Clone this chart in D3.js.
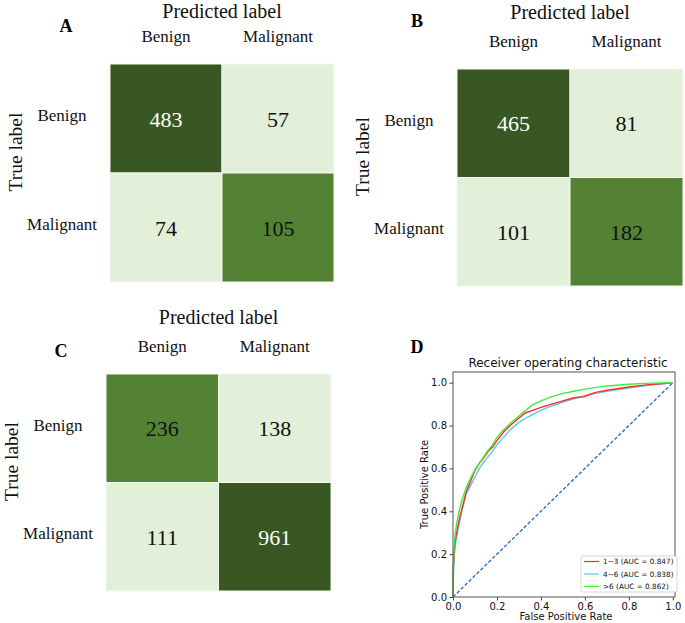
<!DOCTYPE html>
<html><head><meta charset="utf-8">
<script src="https://cdn.jsdelivr.net/npm/d3@7"></script>
<style>body{margin:0;background:#fff}svg{display:block}</style>
</head><body>
<svg id="c" width="685" height="623"></svg>
<script>
// ---------- DATA ----------
const classes = ["Benign", "Malignant"];
const matrixA = [[483, 57], [74, 105]];
const matrixB = [[465, 81], [101, 182]];
const matrixC = [[236, 138], [111, 961]];

const rocTicks = [0, 0.2, 0.4, 0.6, 0.8, 1.0];
const rocNames = ["1~3 (AUC = 0.847)", "4~6 (AUC = 0.838)", ">6 (AUC = 0.862)"];
const fpr13 = [0,0,0.005,0.01,0.02,0.03,0.04,0.05,0.06,0.08,0.1,0.12,0.14,0.16,0.18,0.2,0.23,0.26,0.3,0.33,0.36,0.4,0.45,0.5,0.55,0.6,0.62,0.65,0.7,0.8,0.9,1];
const tpr13 = [0,0.1,0.2,0.26,0.32,0.37,0.41,0.45,0.49,0.54,0.59,0.625,0.65,0.68,0.7,0.73,0.77,0.8,0.835,0.86,0.87,0.885,0.9,0.915,0.93,0.935,0.945,0.955,0.965,0.98,0.992,1];
const fpr46 = [0,0,0.005,0.01,0.02,0.03,0.04,0.05,0.06,0.08,0.1,0.12,0.14,0.16,0.18,0.2,0.23,0.26,0.3,0.34,0.38,0.42,0.46,0.5,0.55,0.6,0.65,0.7,0.8,0.9,1];
const tpr46 = [0,0.06,0.18,0.24,0.3,0.35,0.4,0.44,0.48,0.52,0.56,0.6,0.63,0.655,0.68,0.71,0.745,0.78,0.815,0.84,0.86,0.88,0.895,0.91,0.925,0.94,0.95,0.96,0.975,0.99,1];
const fpr6 = [0,0,0.005,0.01,0.02,0.03,0.04,0.05,0.06,0.08,0.1,0.12,0.14,0.16,0.18,0.2,0.23,0.26,0.3,0.33,0.36,0.4,0.45,0.5,0.55,0.6,0.65,0.7,0.8,0.9,1];
const tpr6 = [0,0.12,0.23,0.3,0.36,0.41,0.45,0.48,0.51,0.555,0.595,0.625,0.655,0.685,0.71,0.745,0.78,0.81,0.845,0.87,0.895,0.915,0.935,0.95,0.96,0.97,0.978,0.985,0.993,0.998,1];
const rocColors = ["#ff2a2a", "#5cc8ea", "#3cf03c"];

// ---------- DRAW ----------
const svg = d3.select("#c");
const serif = "'Liberation Serif','Times New Roman',serif";
const sans = "'DejaVu Sans',sans-serif";
const shade = ["#e2f0d9", "#548235", "#385723"];

function drawMatrix(m, letter, box, letterPos, titleY) {
  const g = svg.append("g");
  const x = d3.scaleBand().domain([0, 1]).range([box.x0, box.x1]);
  const y = d3.scaleBand().domain([0, 1]).range([box.y0, box.y1]);
  // colour by row-normalised value (recall)
  const col = d3.scaleThreshold().domain([0.5, 0.8]).range(shade);
  const cells = [];
  m.forEach((row, i) => {
    const s = d3.sum(row);
    row.forEach((v, j) => cells.push({i, j, v, r: v / s}));
  });
  g.selectAll("rect").data(cells).join("rect")
    .attr("x", d => x(d.j)).attr("y", d => y(d.i))
    .attr("width", x.bandwidth()).attr("height", y.bandwidth())
    .attr("fill", d => col(d.r))
    .attr("stroke", "#f4f8f0").attr("stroke-width", 1);
  g.selectAll("text.num").data(cells).join("text").attr("class", "num")
    .attr("x", d => x(d.j) + x.bandwidth() / 2)
    .attr("y", d => y(d.i) + y.bandwidth() / 2 + 8)
    .attr("text-anchor", "middle")
    .style("font-family", serif).style("font-size", "22px")
    .attr("fill", d => col(d.r) === shade[2] ? "#fff" : "#111")
    .text(d => d.v);
  g.selectAll("text.col").data(classes).join("text").attr("class", "col")
    .attr("x", (d, j) => x(j) + x.bandwidth() / 2)
    .attr("y", box.y0 - 22.5)
    .attr("text-anchor", "middle")
    .style("font-family", serif).style("font-size", "17px").attr("fill", "#111")
    .text(d => d);
  g.selectAll("text.row").data(classes).join("text").attr("class", "row")
    .attr("x", box.x0 - 48)
    .attr("y", (d, i) => y(i) + y.bandwidth() / 2 + 2.5)
    .attr("text-anchor", "middle")
    .style("font-family", serif).style("font-size", "17px").attr("fill", "#111")
    .text(d => d);
  g.append("text")
    .attr("x", (box.x0 + box.x1) / 2).attr("y", titleY)
    .attr("text-anchor", "middle")
    .style("font-family", serif).style("font-size", "20px").attr("fill", "#111")
    .text("Predicted label");
  const cy = (box.y0 + box.y1) / 2 - 21;
  g.append("text")
    .attr("transform", `translate(${box.x0 - 88},${cy}) rotate(-90)`)
    .attr("text-anchor", "middle")
    .style("font-family", serif).style("font-size", "19.5px").attr("fill", "#111")
    .text("True label");
  g.append("text")
    .attr("x", letterPos[0]).attr("y", letterPos[1])
    .attr("text-anchor", "middle")
    .style("font-family", serif).style("font-size", "18px").style("font-weight", "bold")
    .text(letter);
}

drawMatrix(matrixA, "A", {x0: 110, x1: 334, y0: 64, y1: 282}, [66, 32], 18);
drawMatrix(matrixB, "B", {x0: 457, x1: 683, y0: 69, y1: 286}, [417, 27], 19);
drawMatrix(matrixC, "C", {x0: 106, x1: 331, y0: 374, y1: 591}, [61, 357], 324);

// ROC panel
const L = 453, R = 675, T = 372, B = 597;
const xs = d3.scaleLinear().domain([0, 1.01]).range([L, R]);
const ys = d3.scaleLinear().domain([0, 1.05]).range([B, T]);
const rg = svg.append("g");
rg.append("text").attr("x", 417).attr("y", 353).attr("text-anchor", "middle")
  .style("font-family", serif).style("font-size", "18px").style("font-weight", "bold").text("D");
rg.append("text").attr("x", 568).attr("y", 367).attr("text-anchor", "middle")
  .style("font-family", sans).style("font-size", "12px").attr("fill", "#111")
  .text("Receiver operating characteristic");

const line = d3.line().x(d => xs(d[0])).y(d => ys(d[1]));
rg.append("path").datum([[0, 0], [1, 1]]).attr("d", line)
  .attr("fill", "none").attr("stroke", "#2b72d0").attr("stroke-width", 1.4)
  .attr("stroke-dasharray", "3.5,2");
const series = [[fpr46, tpr46, 1], [fpr13, tpr13, 0], [fpr6, tpr6, 2]];
series.forEach(s => {
  const pts = s[0].map((f, i) => [f, s[1][i]]);
  rg.append("path").datum(pts).attr("d", line)
    .attr("fill", "none").attr("stroke", rocColors[s[2]]).attr("stroke-width", 1.4);
});
const ax = d3.axisBottom(xs).tickValues(rocTicks).tickFormat(d3.format(".1f")).tickSize(3.5).tickPadding(2.5);
const ay = d3.axisLeft(ys).tickValues(rocTicks).tickFormat(d3.format(".1f")).tickSize(3.5).tickPadding(2.5);
const gx = rg.append("g").attr("transform", `translate(0,${B})`).call(ax);
const gy = rg.append("g").attr("transform", `translate(${L},0)`).call(ay);
[gx, gy].forEach(g => {
  g.select(".domain").remove();
  g.selectAll("line").attr("stroke", "#444");
  g.selectAll("text").style("font-family", sans).style("font-size", "10px").attr("fill", "#111");
});
rg.append("rect").attr("x", L).attr("y", T).attr("width", R - L).attr("height", B - T)
  .attr("fill", "none").attr("stroke", "#555").attr("stroke-width", 1);
rg.append("text").attr("x", (L + R) / 2 + 2).attr("y", 620).attr("text-anchor", "middle")
  .style("font-family", sans).style("font-size", "10px").attr("fill", "#111").text("False Positive Rate");
rg.append("text").attr("transform", `translate(428,${(T + B) / 2}) rotate(-90)`).attr("text-anchor", "middle")
  .style("font-family", sans).style("font-size", "10px").attr("fill", "#111").text("True Positive Rate");

// legend
const lg = rg.append("g");
lg.append("rect").attr("x", 581).attr("y", 556).attr("width", 96).attr("height", 36).attr("rx", 2)
  .attr("fill", "#fff").attr("stroke", "#ccc").attr("stroke-width", 0.8);
rocNames.forEach((n, k) => {
  const yy = 561.5 + k * 12.5;
  lg.append("line").attr("x1", 584).attr("x2", 599).attr("y1", yy).attr("y2", yy)
    .attr("stroke", rocColors[k]).attr("stroke-width", 1.2);
  lg.append("text").attr("x", 603).attr("y", yy + 2.6)
    .style("font-family", sans).style("font-size", "7.3px").attr("fill", "#111").text(n);
});
</script>
</body></html>
